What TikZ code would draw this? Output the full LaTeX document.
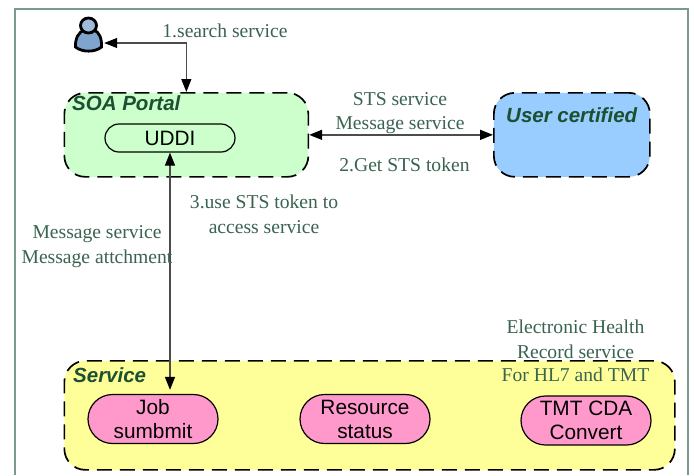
\documentclass[tikz,border=0pt]{standalone}
\usepackage{fontspec}
\setmainfont{Liberation Serif}
\setsansfont{Liberation Sans}
\usetikzlibrary{arrows.meta,shapes.misc}
\definecolor{framec}{HTML}{7A9A8A}
\definecolor{labelc}{HTML}{3A6350}
\definecolor{titlec}{HTML}{1C5030}
\definecolor{greenf}{HTML}{CCFFCC}
\definecolor{bluef}{HTML}{99CCFF}
\definecolor{yellowf}{HTML}{FFFF99}
\definecolor{pinkf}{HTML}{FF99CC}
\definecolor{persona}{HTML}{7FA5CF}
\tikzset{
  x=1pt,y=-1pt,
  group/.style={draw=black,line width=1.7pt,dash pattern=on 15pt off 8pt,rounded corners=21pt,inner sep=0pt,anchor=north west},
  pill/.style={rounded rectangle,draw=black,line width=1.2pt,inner sep=0pt,align=center,font=\sffamily\fontsize{20.8}{24}\selectfont,text=black},
  lbl/.style={font=\fontsize{19.6}{25}\selectfont,text=labelc,align=center,inner sep=0pt},
  ttl/.style={font=\sffamily\bfseries\itshape\fontsize{20.5}{23}\selectfont,text=titlec,inner sep=0pt,anchor=west},
  conn/.style={draw=black!70,line width=1.1pt,{Stealth[length=13pt,width=10pt,inset=0pt,color=black]}-{Stealth[length=13pt,width=10pt,inset=0pt,color=black]}}
}
\begin{document}
\begin{tikzpicture}
\useasboundingbox (0,0) rectangle (694,475);
\fill[white] (0,0) rectangle (694,475);
\draw[framec,line width=1.2pt] (15,475) -- (15,9) -- (688,9) -- (688,475);
% group boxes
\node[group,fill=greenf,minimum width=244pt,minimum height=84pt] (portal) at (63.5,92) {};
\node[group,fill=bluef,minimum width=156pt,minimum height=84pt] (cert) at (493,92) {};
\node[group,fill=yellowf,minimum width=610.5pt,minimum height=109pt] (service) at (63.5,360) {};
% titles
\node[ttl] (t1) at (72,103) {SOA Portal};
\node[ttl] (t2) at (506,115) {User certified};
\node[ttl] (t3) at (73,375) {Service};
% pills
\node[pill,fill=greenf,minimum width=130pt,minimum height=28pt] (uddi) at (170,138) {UDDI};
\node[pill,fill=pinkf,minimum width=130pt,minimum height=49pt] (job) at (153,419) {Job\\sumbmit};
\node[pill,fill=pinkf,minimum width=130pt,minimum height=49pt] (res) at (365,419) {Resource\\status};
\node[pill,fill=pinkf,minimum width=130pt,minimum height=49pt] (tmt) at (586,420.5) {TMT CDA\\Convert};
% person
\node[inner sep=0pt,minimum width=30pt,minimum height=18pt] (person) at (89,43) {};
\draw[black,line width=2.8pt,fill=persona]
  (75.5,47) .. controls (75,38) and (79,32) .. (84,30) -- (94,30) .. controls (99,32) and (102,38) .. (101.5,47) .. controls (95,52.5) and (82,52.5) .. (75.5,47) -- cycle;
\draw[black,line width=2.8pt,fill=persona!75!white] (88.5,25.5) ellipse (8pt and 7.5pt);
% connectors
\draw[conn] (person.east) -| (portal.north);
\draw[conn,line width=1.5pt] (portal.east) -- (cert.west);
\draw[conn,shorten >=4pt] (uddi.south) -- (uddi.south |- job.north);
% labels
\node[lbl] (l1) at (225,30.5) {1.search service};
\node[lbl] (l2) at (400,99) {STS service};
\node[lbl] (l3) at (400,125) {Message service};
\node[lbl] (l4) at (404.5,165) {2.Get STS token};
\node[lbl] (l5) at (264,214.5) {3.use STS token to\\access service};
\node[lbl] (l6) at (97,246.5) {Message service\\Message attchment};
\node[lbl] (l7) at (575.5,339.5) {Electronic Health\\Record service};
\node[lbl] (l8) at (575.5,375) {For HL7 and TMT};
\end{tikzpicture}
\end{document}
